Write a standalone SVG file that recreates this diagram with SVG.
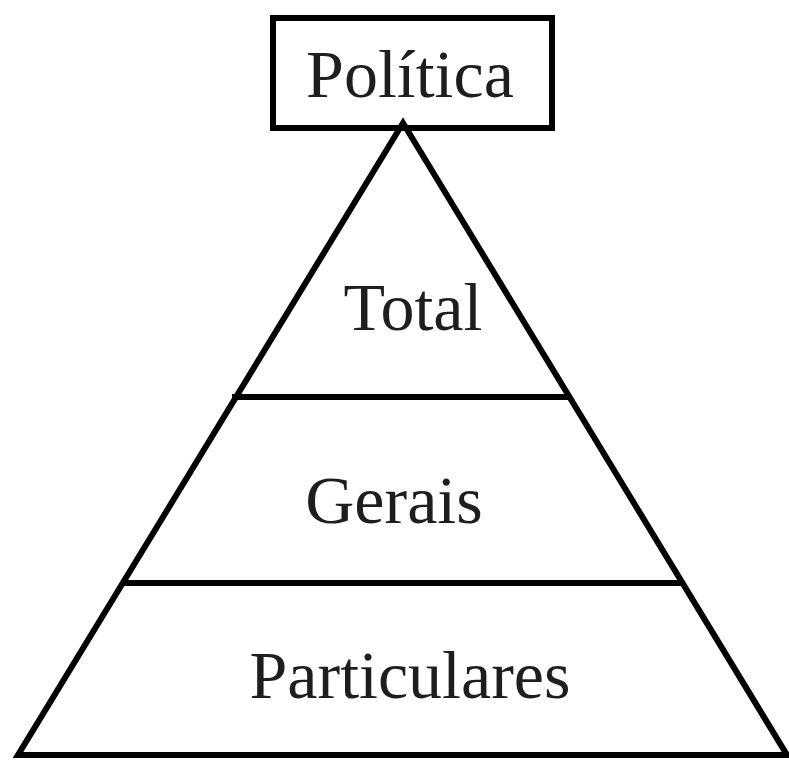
<svg xmlns="http://www.w3.org/2000/svg" width="789" height="760" viewBox="0 0 789 760">
<style>
.ln{fill:none;stroke:#000;stroke-width:6;stroke-linejoin:miter}
.lb{font-family:"Liberation Serif","Times New Roman",serif;font-size:68px;fill:#1e1e1e;text-anchor:middle}
</style>
<rect width="789" height="760" fill="#fff"/>
<g id="connectors">
<line class="ln" x1="232" y1="397" x2="571" y2="397"/>
<line class="ln" x1="121" y1="583" x2="684" y2="583"/>
</g>
<g id="pyramid">
<polygon class="ln" points="403,123 18,755 787,755"/>
</g>
<g id="politica">
<rect class="ln" x="273" y="18" width="279" height="110" stroke-width="7"/>
<text class="lb" x="410" y="97">Política</text>
</g>
<g id="total"><text class="lb" x="413" y="330">Total</text></g>
<g id="gerais"><text class="lb" x="394" y="523">Gerais</text></g>
<g id="particulares"><text class="lb" x="410" y="698">Particulares</text></g>
</svg>
